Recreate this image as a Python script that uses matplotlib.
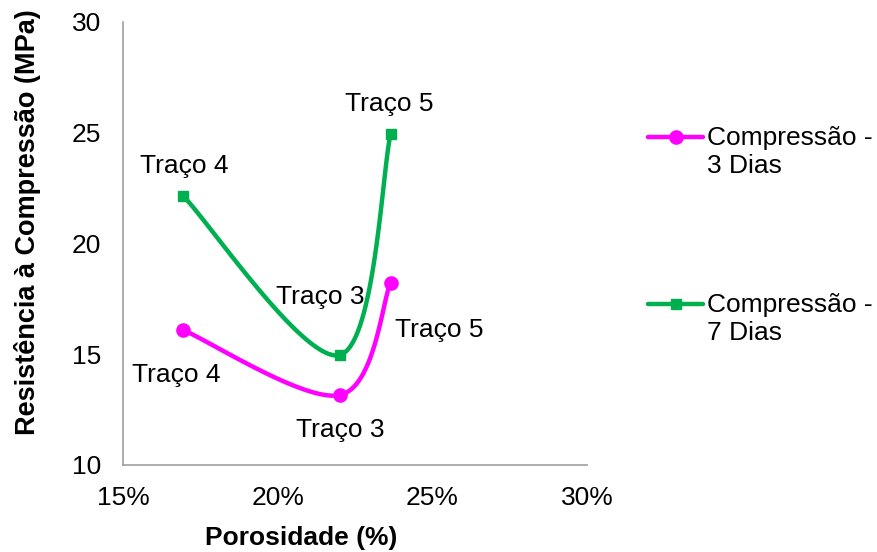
import numpy as np
import matplotlib
matplotlib.use("Agg")
import matplotlib.pyplot as plt
from matplotlib.lines import Line2D
from matplotlib.ticker import FuncFormatter

plt.rcParams['font.family'] = ['Liberation Sans', 'DejaVu Sans']

# Data: porosity (%) vs compressive strength (MPa)
porosity = [16.95, 22.02, 23.65]
strength_3d = [16.09, 13.16, 18.23]
strength_7d = [22.14, 14.97, 24.94]
trace_labels = ["Traço 4", "Traço 3", "Traço 5"]
series_names = ["Compressão -\n3 Dias", "Compressão -\n7 Dias"]
x_ticks = [15, 20, 25, 30]
y_ticks = [10, 15, 20, 25, 30]

MAGENTA = "#FF00FF"
GREEN = "#00B050"
FS = 19


def smooth(xs, ys, n=60):
    """Catmull-Rom style Bezier smoothing through the points."""
    P = np.column_stack([xs, ys]).astype(float)
    k = len(P)
    out = []
    for i in range(k - 1):
        p0 = P[i - 1] if i > 0 else P[i]
        p1, p2 = P[i], P[i + 1]
        p3 = P[i + 2] if i + 2 < k else P[i + 1]
        c1 = p1 + (p2 - p0) / 6.0
        c2 = p2 - (p3 - p1) / 6.0
        t = np.linspace(0, 1, n)[:, None]
        seg = ((1 - t) ** 3) * p1 + 3 * ((1 - t) ** 2) * t * c1 + 3 * (1 - t) * t ** 2 * c2 + t ** 3 * p2
        out.append(seg if i == 0 else seg[1:])
    pts = np.vstack(out)
    return pts[:, 0], pts[:, 1]


fig = plt.figure(figsize=(8.78, 5.52), dpi=100)
ax = fig.add_axes([123 / 878, 1 - 465 / 552, (587 - 123) / 878, (465 - 22) / 552])

for ys, color, marker, ms in [(strength_3d, MAGENTA, "o", 9.5), (strength_7d, GREEN, "s", 6.5)]:
    sx, sy = smooth(porosity, ys)
    ax.plot(sx, sy, color=color, lw=3.2, solid_capstyle="round", zorder=3)
    ax.plot(porosity, ys, ls="none", marker=marker, ms=ms, color=color, zorder=4)

# point labels, offsets in points
off_3d = [(-5, -32), (0, -25), (35, -34)]
off_7d = [(1, 22), (-14, 42), (-1, 22)]
for x, y, lab, off in zip(porosity, strength_3d, trace_labels, off_3d):
    ax.annotate(lab, (x, y), xytext=off, textcoords="offset points",
                ha="center", va="center", fontsize=FS, color="black", zorder=5)
for x, y, lab, off in zip(porosity, strength_7d, trace_labels, off_7d):
    ax.annotate(lab, (x, y), xytext=off, textcoords="offset points",
                ha="center", va="center", fontsize=FS, color="black", zorder=5)

ax.set_xlim(15, 30)
ax.set_ylim(10, 30)
ax.set_xticks(x_ticks)
ax.set_yticks(y_ticks)
ax.xaxis.set_major_formatter(FuncFormatter(lambda v, p: f"{v:.0f}%"))
ax.tick_params(axis="both", length=0, labelsize=FS, colors="black")
ax.tick_params(axis="y", pad=16)
ax.tick_params(axis="x", pad=15)
for side in ["top", "right"]:
    ax.spines[side].set_visible(False)
for side in ["left", "bottom"]:
    ax.spines[side].set_color("#A0A0A0")
    ax.spines[side].set_linewidth(1.2)

fig.text(301 / 878, 1 - 538 / 552, "Porosidade (%)", ha="center", va="center",
         fontsize=FS, fontweight="bold")
fig.text(28 / 878, 1 - 222 / 552, "Resistência à Compressão (MPa)", ha="center", va="center",
         rotation=90, fontsize=FS + 0.5, fontweight="bold")

# legend drawn beside the plot
for (name, color, marker, ms, ly) in [(series_names[0], MAGENTA, "o", 9.5, 137),
                                      (series_names[1], GREEN, "s", 6.5, 304)]:
    yf = 1 - ly / 552
    fig.add_artist(Line2D([648 / 878, 703 / 878], [yf, yf], transform=fig.transFigure,
                          color=color, lw=3.2, solid_capstyle="round"))
    fig.add_artist(Line2D([675.5 / 878], [yf], transform=fig.transFigure, ls="none",
                          marker=marker, ms=ms, color=color))
    fig.text(707 / 878, 1 - (ly - 11) / 552, name, ha="left", va="top", fontsize=FS,
             linespacing=1.2)

fig.savefig("out.png", dpi=100)
